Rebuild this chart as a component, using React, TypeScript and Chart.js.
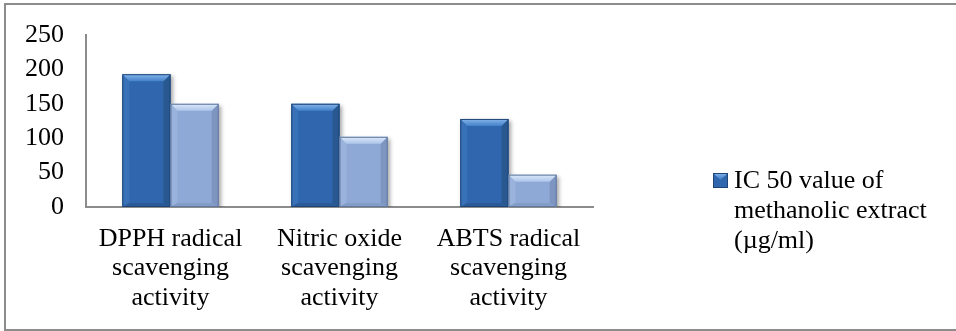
import React, { useEffect, useRef } from "react";
import { Chart, registerables } from "chart.js";

Chart.register(...registerables);

// Assay categories (multi-line axis labels)
const categories: string[][] = [
  ["DPPH radical", "scavenging", "activity"],
  ["Nitric oxide", "scavenging", "activity"],
  ["ABTS radical", "scavenging", "activity"],
];

// IC50 values (µg/ml)
const extractValues: number[] = [193, 150, 128];
const standardValues: number[] = [150, 102, 47];

const extractLabel = "IC 50 value of\nmethanolic extract\n(µg/ml)";
const standardLabel = "Standard";

const yTicks = { min: 0, max: 250, step: 50 };

const FONT = "'Liberation Serif', 'Times New Roman', serif";
const FONT_SIZE = 26;

type Palette = {
  face: string;
  outline: string;
  topA: string;
  topB: string;
  left: string;
  right: string;
  bottom: string;
};

const palettes: Palette[] = [
  {
    face: "#2f66ad",
    outline: "#1f4577",
    topA: "#86b6ec",
    topB: "#4481c8",
    left: "#3871b7",
    right: "#28588f",
    bottom: "#2a5b98",
  },
  {
    face: "#8ea9d5",
    outline: "#62799f",
    topA: "#dbe8f8",
    topB: "#aec6ea",
    left: "#9ab3dc",
    right: "#7d95c0",
    bottom: "#849dc8",
  },
];

// Draws the bevelled faces on top of each bar rectangle
const bevelPlugin = {
  id: "bevel",
  beforeDatasetDraw(chart: any) {
    const ctx = chart.ctx;
    ctx.save();
    ctx.shadowColor = "rgba(0,0,0,0.35)";
    ctx.shadowBlur = 4;
    ctx.shadowOffsetX = 2;
    ctx.shadowOffsetY = 2;
  },
  afterDatasetDraw(chart: any) {
    chart.ctx.restore();
  },
  afterDatasetsDraw(chart: any) {
    const ctx: CanvasRenderingContext2D = chart.ctx;
    chart.data.datasets.forEach((_ds: any, di: number) => {
      const meta = chart.getDatasetMeta(di);
      const pal = palettes[di];
      meta.data.forEach((bar: any) => {
        const { x, y, base, width } = bar.getProps(["x", "y", "base", "width"], true);
        const x0 = x - width / 2;
        const x1 = x + width / 2;
        const h = base - y;
        const b = Math.min(7, h / 3);
        const bb = Math.min(4, h / 4);
        ctx.save();
        // left face
        ctx.fillStyle = pal.left;
        ctx.beginPath();
        ctx.moveTo(x0, y);
        ctx.lineTo(x0 + b, y + b);
        ctx.lineTo(x0 + b, base - bb);
        ctx.lineTo(x0, base);
        ctx.closePath();
        ctx.fill();
        // right face
        ctx.fillStyle = pal.right;
        ctx.beginPath();
        ctx.moveTo(x1, y);
        ctx.lineTo(x1 - b, y + b);
        ctx.lineTo(x1 - b, base - bb);
        ctx.lineTo(x1, base);
        ctx.closePath();
        ctx.fill();
        // bottom face
        ctx.fillStyle = pal.bottom;
        ctx.beginPath();
        ctx.moveTo(x0, base);
        ctx.lineTo(x0 + b, base - bb);
        ctx.lineTo(x1 - b, base - bb);
        ctx.lineTo(x1, base);
        ctx.closePath();
        ctx.fill();
        // top face
        const g = ctx.createLinearGradient(0, y, 0, y + b);
        g.addColorStop(0, pal.topA);
        g.addColorStop(1, pal.topB);
        ctx.fillStyle = g;
        ctx.beginPath();
        ctx.moveTo(x0, y);
        ctx.lineTo(x1, y);
        ctx.lineTo(x1 - b, y + b);
        ctx.lineTo(x0 + b, y + b);
        ctx.closePath();
        ctx.fill();
        // outline
        ctx.strokeStyle = pal.outline;
        ctx.lineWidth = 1;
        ctx.strokeRect(x0 + 0.5, y + 0.5, width - 1, h - 1);
        ctx.restore();
      });
    });
  },
};

// Outer frame and the single-entry legend at the right
const framePlugin = {
  id: "frame",
  beforeDraw(chart: any) {
    const ctx: CanvasRenderingContext2D = chart.ctx;
    ctx.save();
    ctx.fillStyle = "#ffffff";
    ctx.fillRect(0, 0, chart.width, chart.height);
    ctx.strokeStyle = "#8c8c8c";
    ctx.lineWidth = 2;
    ctx.strokeRect(5, 4, chart.width + 20, chart.height - 5);
    ctx.restore();
  },
  afterDraw(chart: any) {
    const ctx: CanvasRenderingContext2D = chart.ctx;
    const ds = chart.data.datasets[0];
    const pal = palettes[0];
    const lines: string[] = String(ds.label).split("\n");
    const boxX = chart.chartArea.right + 120;
    const boxY = 173;
    const size = 15;
    ctx.save();
    ctx.fillStyle = pal.face;
    ctx.fillRect(boxX, boxY, size, size);
    const g = ctx.createLinearGradient(0, boxY, 0, boxY + 6);
    g.addColorStop(0, pal.topA);
    g.addColorStop(1, pal.topB);
    ctx.fillStyle = g;
    ctx.beginPath();
    ctx.moveTo(boxX, boxY);
    ctx.lineTo(boxX + size, boxY);
    ctx.lineTo(boxX + size / 2, boxY + 7);
    ctx.closePath();
    ctx.fill();
    ctx.strokeStyle = pal.outline;
    ctx.lineWidth = 1;
    ctx.strokeRect(boxX + 0.5, boxY + 0.5, size - 1, size - 1);
    ctx.fillStyle = "#000";
    ctx.font = `${FONT_SIZE}px ${FONT}`;
    ctx.textBaseline = "alphabetic";
    ctx.textAlign = "left";
    lines.forEach((t, i) => {
      ctx.fillText(t, boxX + size + 6, 188 + i * 30);
    });
    ctx.restore();
  },
};

export default function App() {
  const ref = useRef<HTMLCanvasElement | null>(null);

  useEffect(() => {
    document.body.style.margin = "0";
    const canvas = ref.current;
    if (!canvas) return;
    const chart = new Chart(canvas, {
      type: "bar",
      data: {
        labels: categories,
        datasets: [
          {
            label: extractLabel,
            data: extractValues,
            backgroundColor: palettes[0].face,
            borderWidth: 0,
            categoryPercentage: 0.57,
            barPercentage: 1,
          },
          {
            label: standardLabel,
            data: standardValues,
            backgroundColor: palettes[1].face,
            borderWidth: 0,
            categoryPercentage: 0.57,
            barPercentage: 1,
          },
        ],
      },
      options: {
        responsive: false,
        animation: false,
        devicePixelRatio: 1,
        layout: { padding: { left: 0, right: 363, top: 34, bottom: 0 } },
        plugins: {
          legend: { display: false },
          tooltip: { enabled: false },
        },
        scales: {
          x: {
            grid: { display: false, drawTicks: false },
            border: { display: true, color: "#8c8c8c", width: 2 },
            ticks: {
              color: "#000",
              font: { family: FONT, size: FONT_SIZE, lineHeight: 1.14 },
              padding: 17,
              maxRotation: 0,
              autoSkip: false,
            },
            afterFit(scale: any) {
              scale.height = 124;
            },
          },
          y: {
            min: yTicks.min,
            max: yTicks.max,
            grid: { display: false, drawTicks: false },
            border: { display: true, color: "#8c8c8c", width: 2 },
            ticks: {
              stepSize: yTicks.step,
              color: "#000",
              font: { family: FONT, size: FONT_SIZE, lineHeight: 1 },
              padding: 22,
              autoSkip: false,
            },
            afterFit(scale: any) {
              scale.width = 86;
            },
          },
        },
      },
      plugins: [framePlugin, bevelPlugin],
    });
    return () => chart.destroy();
  }, []);

  return (
    <div style={{ width: 956, height: 331, overflow: "hidden" }}>
      <canvas ref={ref} width={956} height={331} style={{ display: "block", width: 956, height: 331 }} />
    </div>
  );
}
